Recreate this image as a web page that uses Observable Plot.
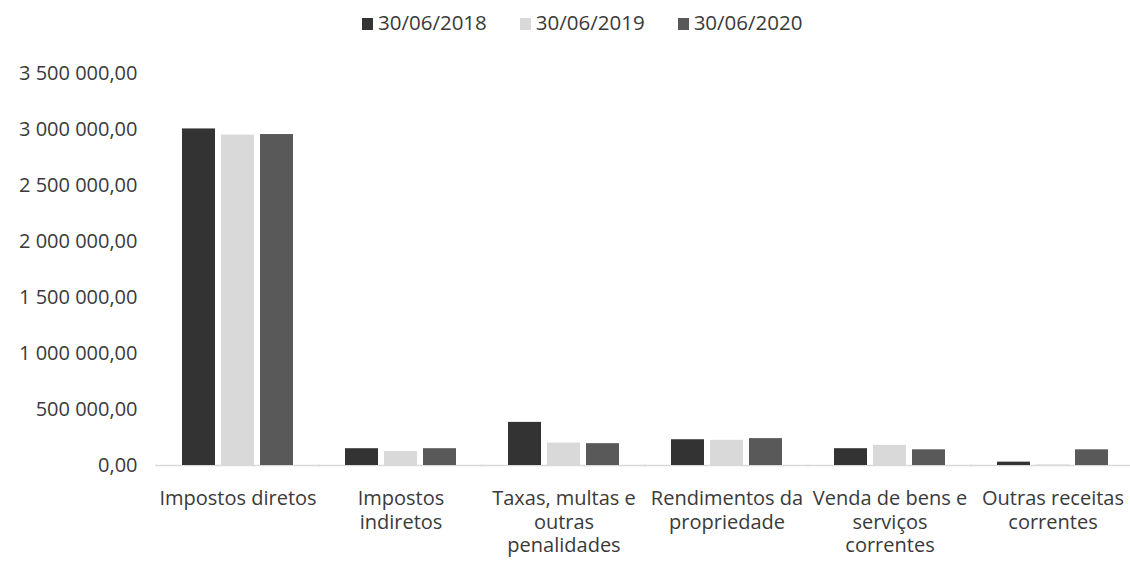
<!DOCTYPE html>
<html>
<head>
<meta charset="utf-8">
<script src="https://cdn.jsdelivr.net/npm/d3@7"></script>
<script src="https://cdn.jsdelivr.net/npm/@observablehq/plot@0.6"></script>
<style>
  html, body { margin: 0; padding: 0; background: #fff; }
  #legend { height: 40px; line-height: 44px; padding-left: 362px; white-space: nowrap;
            font-family: "Open Sans", sans-serif; font-size: 20.5px; color: #3a3a3a; }
  #legend .item { display: inline-block; margin-right: 33px; }
  #legend .sw { display: inline-block; width: 11px; height: 12px; vertical-align: middle; margin-right: 5px; position: relative; top: -1px; }
  #chart svg { display: block; }
</style>
</head>
<body>
<div id="legend"></div>
<div id="chart"></div>
<script>
const categories = [
  "Impostos diretos",
  "Impostos indiretos",
  "Taxas, multas e outras penalidades",
  "Rendimentos da propriedade",
  "Venda de bens e serviços correntes",
  "Outras receitas correntes"
];
const categoryLabels = [
  "Impostos diretos",
  "Impostos\nindiretos",
  "Taxas, multas e\noutras\npenalidades",
  "Rendimentos da\npropriedade",
  "Venda de bens e\nserviços\ncorrentes",
  "Outras receitas\ncorrentes"
];
const series = ["30/06/2018", "30/06/2019", "30/06/2020"];
const values2018 = [3005000, 150000, 385000, 230000, 150000, 30000];
const values2019 = [2950000, 125000, 200000, 225000, 180000, 5000];
const values2020 = [2955000, 150000, 195000, 240000, 140000, 140000];
const yTicks = [0, 500000, 1000000, 1500000, 2000000, 2500000, 3000000, 3500000];
const colors = ["#333333", "#d9d9d9", "#595959"];

const valuesBySeries = [values2018, values2019, values2020];
const data = [];
categories.forEach((c, i) => {
  series.forEach((s, j) => data.push({category: c, series: s, value: valuesBySeries[j][i]}));
});

const fmt = d3.formatLocale({decimal: ",", thousands: " ", grouping: [3], currency: ["", ""]}).format(",.2f");

// Legend
const legend = document.getElementById("legend");
series.forEach((s, j) => {
  const item = document.createElement("span");
  item.className = "item";
  const sw = document.createElement("span");
  sw.className = "sw";
  sw.style.background = colors[j];
  item.appendChild(sw);
  item.appendChild(document.createTextNode(s));
  legend.appendChild(item);
});

const chart = Plot.plot({
  width: 1130,
  height: 522,
  marginLeft: 154,
  marginRight: -6,
  marginTop: 33,
  marginBottom: 97,
  style: {fontFamily: "'Open Sans', sans-serif", color: "#3a3a3a", background: "#fff"},
  fx: {domain: categories, paddingInner: 0.236, paddingOuter: 0.118, label: null, axis: null},
  x: {domain: series, padding: 0.165, axis: null},
  y: {domain: [0, 3500000], axis: null},
  color: {domain: series, range: colors},
  marks: [
    Plot.ruleY([0], {stroke: "#d9d9d9", strokeWidth: 1.5, insetLeft: -20, insetRight: -20}),
    Plot.barY(data, {fx: "category", x: "series", y: "value", fill: "series"}),
    Plot.axisY({ticks: yTicks, tickFormat: fmt, tickSize: 0, tickPadding: 38, fontSize: 20, label: null, fill: "#3a3a3a"}),
    Plot.axisFx({anchor: "bottom", tickSize: 0, tickPadding: 23, fontSize: 20, lineHeight: 1.175, label: null, fill: "#3a3a3a",
                 tickFormat: d => categoryLabels[categories.indexOf(d)]})
  ]
});
document.getElementById("chart").appendChild(chart);
</script>
</body>
</html>
